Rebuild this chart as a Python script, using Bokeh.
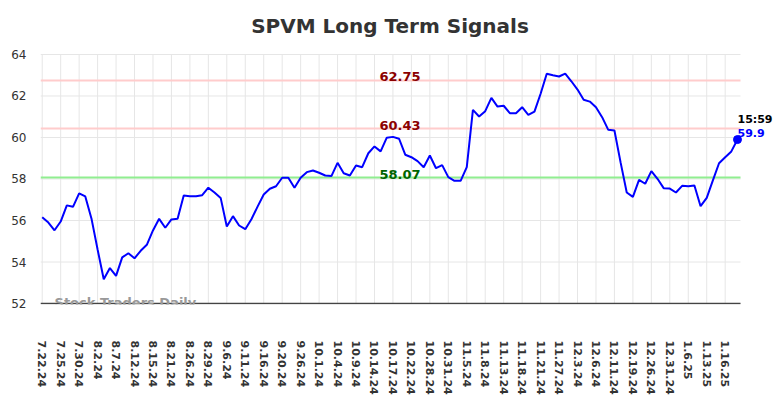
from bokeh.plotting import figure
from bokeh.models import FixedTicker, Label
from bokeh.embed import file_html
from bokeh.resources import INLINE

# ---- data -----------------------------------------------------------------
values = [
    56.16, 55.90, 55.53, 55.95, 56.73, 56.66, 57.31, 57.16, 56.10, 54.60,
    53.17, 53.71, 53.33, 54.22, 54.42, 54.18, 54.54, 54.83, 55.52, 56.08,
    55.65, 56.05, 56.08, 57.20, 57.17, 57.17, 57.22, 57.58, 57.35, 57.09,
    55.71, 56.21, 55.76, 55.58, 56.06, 56.67, 57.25, 57.53, 57.65, 58.06,
    58.06, 57.58, 58.06, 58.33, 58.41, 58.30, 58.17, 58.14, 58.78, 58.28,
    58.17, 58.65, 58.57, 59.24, 59.57, 59.33, 59.99, 60.03, 59.94, 59.17,
    59.05, 58.86, 58.57, 59.13, 58.52, 58.67, 58.09, 57.91, 57.91, 58.57,
    61.33, 61.01, 61.27, 61.91, 61.49, 61.53, 61.17, 61.17, 61.46, 61.09,
    61.25, 62.11, 63.07, 63.00, 62.94, 63.08, 62.71, 62.31, 61.82, 61.73,
    61.46, 60.98, 60.37, 60.34, 58.80, 57.35, 57.14, 57.96, 57.77, 58.38,
    58.01, 57.56, 57.54, 57.35, 57.67, 57.65, 57.69, 56.69, 57.09, 57.93,
    58.76, 59.05, 59.33, 59.90,
]

tick_labels = [
    "7.22.24", "7.25.24", "7.30.24", "8.2.24", "8.7.24", "8.12.24", "8.15.24",
    "8.21.24", "8.26.24", "8.29.24", "9.6.24", "9.11.24", "9.16.24", "9.20.24",
    "9.26.24", "10.1.24", "10.4.24", "10.9.24", "10.14.24", "10.17.24",
    "10.22.24", "10.28.24", "10.31.24", "11.5.24", "11.8.24", "11.13.24",
    "11.18.24", "11.21.24", "11.27.24", "12.3.24", "12.6.24", "12.11.24",
    "12.19.24", "12.26.24", "12.31.24", "1.6.25", "1.13.25", "1.16.25",
]
tick_step = 3

resistance_levels = [62.75, 60.43]
support_levels = [58.07]
y_ticks = [52, 54, 56, 58, 60, 62, 64]
last_time = "15:59"
last_value_text = "59.9"
title_text = "SPVM Long Term Signals"
watermark = "Stock Traders Daily"

FONT = "DejaVu Sans"

# ---- geometry (data-space extents of the drawing area) --------------------
x_end = len(values) - 1
x_lo, x_hi = -0.28, x_end + 0.49          # plotted region in x
y_lo, y_hi = y_ticks[0], y_ticks[-1]       # plotted region in y

x = list(range(len(values)))

p = figure(
    width=784, height=398,
    output_backend="svg", toolbar_location=None,
    x_range=(x_lo, 120.64), y_range=(51.952, 66.602),
    min_border_left=40, min_border_right=0,
    min_border_top=0, min_border_bottom=94,
)
p.outline_line_color = None
p.background_fill_color = "white"
p.border_fill_color = "white"
p.xgrid.visible = False
p.ygrid.visible = False

# axes
tick_pos = [i * tick_step for i in range(len(tick_labels))]
p.xaxis.ticker = FixedTicker(ticks=tick_pos)
p.xaxis.major_label_overrides = {pos: lab for pos, lab in zip(tick_pos, tick_labels)}
p.xaxis.major_label_orientation = "vertical"
p.xaxis.major_label_text_font = FONT
p.xaxis.major_label_text_font_size = "11px"
p.xaxis.major_label_text_font_style = "bold"
p.xaxis.major_label_text_color = "#333333"
p.xaxis.major_label_standoff = 36
p.xaxis.major_tick_line_color = None
p.xaxis.major_tick_out = 0
p.xaxis.minor_tick_line_color = None
p.xaxis.axis_line_color = None

p.yaxis.ticker = FixedTicker(ticks=y_ticks)
p.yaxis.major_label_text_font = FONT
p.yaxis.major_label_text_font_size = "12px"
p.yaxis.major_label_text_color = "#333333"
p.yaxis.major_label_standoff = 14
p.yaxis.major_tick_line_color = None
p.yaxis.major_tick_out = 0
p.yaxis.minor_tick_line_color = None
p.yaxis.axis_line_color = None

# grid lines limited to the plotted region
GRID = "#e6e6e6"
p.segment(x0=tick_pos, y0=[y_lo] * len(tick_pos), x1=tick_pos, y1=[y_hi] * len(tick_pos),
          line_color=GRID, line_width=1)
p.segment(x0=[x_lo] * len(y_ticks), y0=y_ticks, x1=[x_hi] * len(y_ticks), y1=y_ticks,
          line_color=GRID, line_width=1)

# level lines
p.segment(x0=[x_lo] * len(resistance_levels), y0=resistance_levels,
          x1=[x_hi] * len(resistance_levels), y1=resistance_levels,
          line_color="#ffcccc", line_width=2)
p.segment(x0=[x_lo] * len(support_levels), y0=support_levels,
          x1=[x_hi] * len(support_levels), y1=support_levels,
          line_color="#90ee90", line_width=2)

# bottom axis line
p.segment(x0=[x_lo], y0=[y_lo], x1=[x_hi], y1=[y_lo], line_color="#444444", line_width=1.5)

# price line
p.line(x, values, line_color="blue", line_width=2)
p.scatter([x_end], [values[-1]], size=8, color="blue")

# level labels
label_x = 58.15
for lv in resistance_levels:
    p.add_layout(Label(x=label_x, y=lv + 0.17, text=f"{lv:.2f}", text_align="center",
                       text_baseline="alphabetic", text_font=FONT, text_font_size="13px",
                       text_font_style="bold", text_color="#8b0000"))
for lv in support_levels:
    p.add_layout(Label(x=label_x, y=lv + 0.17, text=f"{lv:.2f}", text_align="center",
                       text_baseline="alphabetic", text_font=FONT, text_font_size="13px",
                       text_font_style="bold", text_color="#006400"))

# last value labels
p.add_layout(Label(x=x_end, y=60.85, text=last_time, text_align="left",
                   text_baseline="alphabetic", text_font=FONT, text_font_size="11px",
                   text_font_style="bold", text_color="black"))
p.add_layout(Label(x=x_end, y=60.23, text=last_value_text, text_align="left",
                   text_baseline="alphabetic", text_font=FONT, text_font_size="11px",
                   text_font_style="bold", text_color="blue"))

# watermark
p.add_layout(Label(x=2, y=52.05, text=watermark, text_align="left",
                   text_baseline="middle", text_font=FONT, text_font_size="13px",
                   text_font_style="bold", text_color="#999999"))

# title
p.add_layout(Label(x=56.52, y=65.35, text=title_text,
                   text_align="center", text_baseline="middle", text_font=FONT,
                   text_font_size="20px", text_font_style="bold", text_color="#333333"))

open("out.html", "w").write(file_html(p, INLINE))
